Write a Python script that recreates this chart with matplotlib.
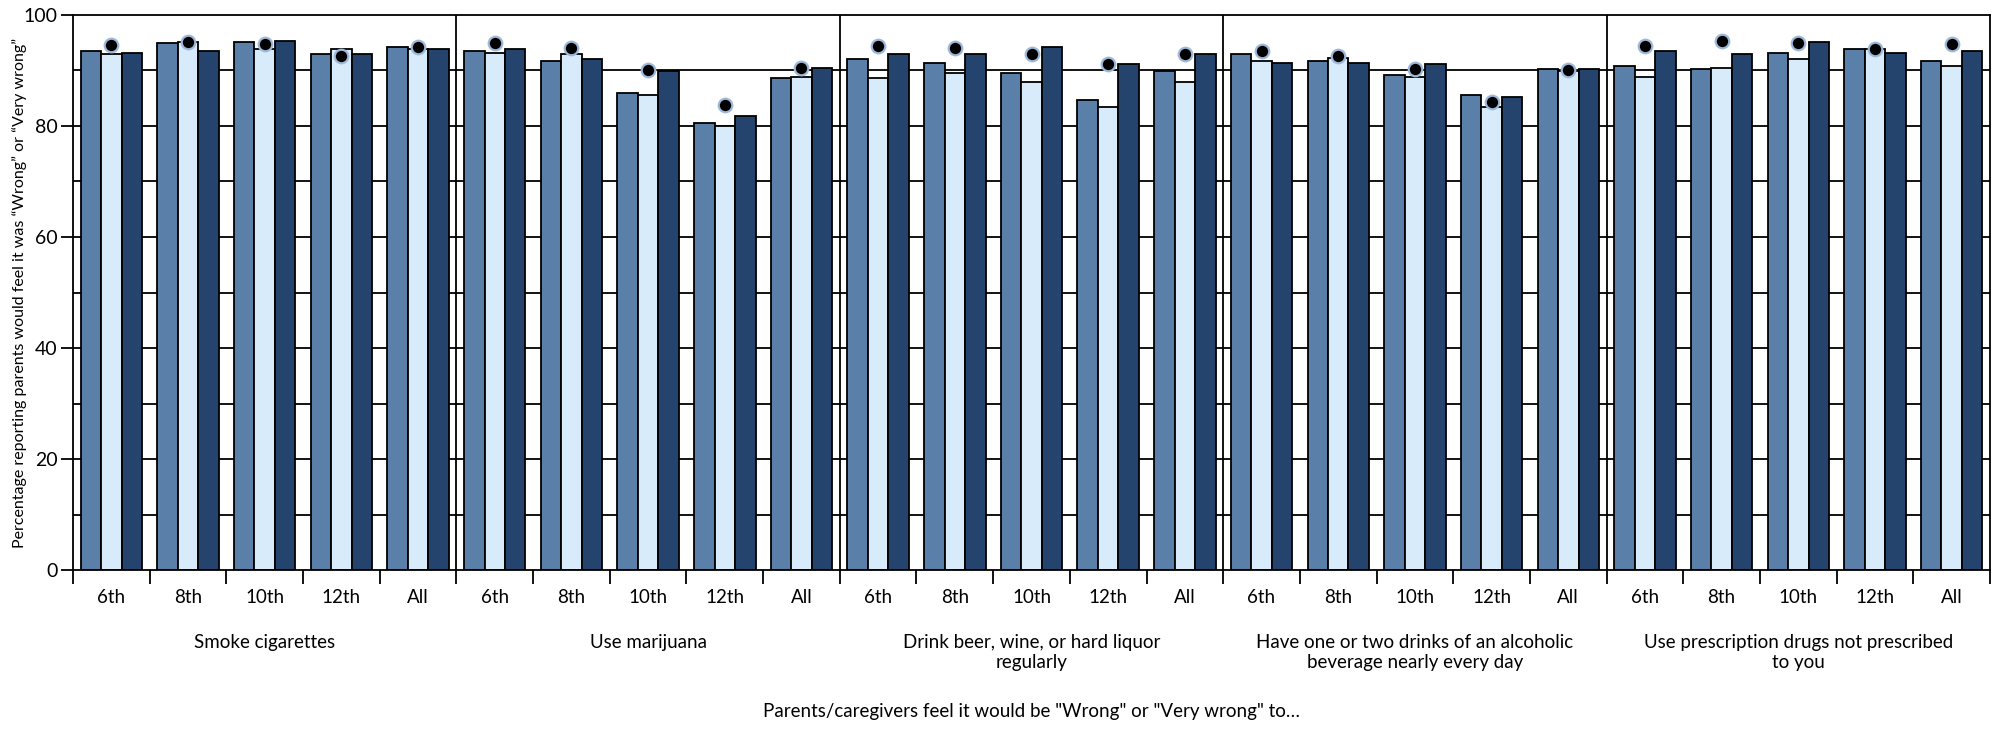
import matplotlib
matplotlib.use("Agg")
import matplotlib.pyplot as plt
import numpy as np

plt.rcParams['font.family'] = ['Lato', 'DejaVu Sans']

# data
grades = ['6th', '8th', '10th', '12th', 'All']
groups = ['Smoke cigarettes',
          'Use marijuana',
          'Drink beer, wine, or hard liquor\nregularly',
          'Have one or two drinks of an alcoholic\nbeverage nearly every day',
          'Use prescription drugs not prescribed\nto you']

series1 = [93.5, 94.9, 95.1, 93.0, 94.2,
           93.5, 91.7, 85.9, 80.6, 88.6,
           92.0, 91.4, 89.6, 84.6, 89.9,
           93.0, 91.7, 89.2, 85.5, 90.2,
           90.8, 90.2, 93.2, 93.9, 91.7]
series2 = [93.0, 95.2, 93.9, 93.9, 93.9,
           93.2, 93.0, 85.5, 80.0, 88.9,
           88.6, 89.6, 88.0, 83.4, 88.0,
           91.7, 92.3, 88.9, 83.5, 89.9,
           88.9, 90.5, 92.0, 93.9, 90.8]
series3 = [93.2, 93.5, 95.4, 93.0, 93.9,
           93.9, 92.0, 89.9, 81.8, 90.5,
           93.0, 93.0, 94.2, 91.1, 93.0,
           91.4, 91.4, 91.1, 85.2, 90.2,
           93.5, 93.0, 95.1, 93.2, 93.5]
dots = [94.6, 95.2, 94.8, 92.6, 94.3,
        94.9, 94.1, 90.0, 83.7, 90.5,
        94.4, 94.1, 93.0, 91.1, 93.0,
        93.5, 92.6, 90.3, 84.3, 90.0,
        94.5, 95.3, 95.0, 93.8, 94.7]

fig = plt.figure(figsize=(19.95, 7.31), dpi=100)
ax = fig.add_axes([0.0366, 0.2202, 0.9609, 0.7593])

n = len(series1)
x = np.arange(n) + 0.5
w = 0.267
kw = dict(width=w, edgecolor='black', linewidth=1.3, zorder=2)
ax.bar(x - w, series1, color='#5a7fa8', **kw)
ax.bar(x, series2, color='#d8ebfb', **kw)
ax.bar(x + w, series3, color='#25446d', **kw)
ax.scatter(x, dots, s=95, color='black', edgecolors='#9db8d8', linewidths=1.6, zorder=4)

ax.set_xlim(0, n)
ax.set_ylim(0, 100)

# horizontal lines every 10
for yv in range(10, 100, 10):
    ax.axhline(yv, color='black', lw=1.3, zorder=1)
# group separators
for gx in range(5, n, 5):
    ax.axvline(gx, color='black', lw=1.3, zorder=1)

for s in ax.spines.values():
    s.set_linewidth(1.3)

ax.set_yticks(range(0, 101, 20))
ax.tick_params(axis='y', length=9, width=1.3, labelsize=14, pad=2)
ax.set_xticks(np.arange(0, n + 1))
ax.set_xticklabels([])
ax.tick_params(axis='x', length=10, width=1.3)
for i in range(n):
    ax.text(x[i], -0.035, grades[i % 5], transform=ax.get_xaxis_transform(),
            ha='center', va='top', fontsize=13.5)

for g, name in enumerate(groups):
    ax.text(g * 5 + 2.5, -0.115, name, transform=ax.get_xaxis_transform(),
            ha='center', va='top', fontsize=13.5, linespacing=1.25)

fig.text(0.0366 + 0.9609 / 2, 0.026, 'Parents/caregivers feel it would be "Wrong" or "Very wrong" to\u2026',
         ha='center', va='center', fontsize=13.5)
fig.text(0.010, 0.2202 + 0.7593 / 2,
         'Percentage reporting parents would feel it was \u201cWrong\u201d or \u201cVery wrong\u201d',
         rotation=90, ha='center', va='center', fontsize=11.5)

fig.savefig('out.png', dpi=100)
